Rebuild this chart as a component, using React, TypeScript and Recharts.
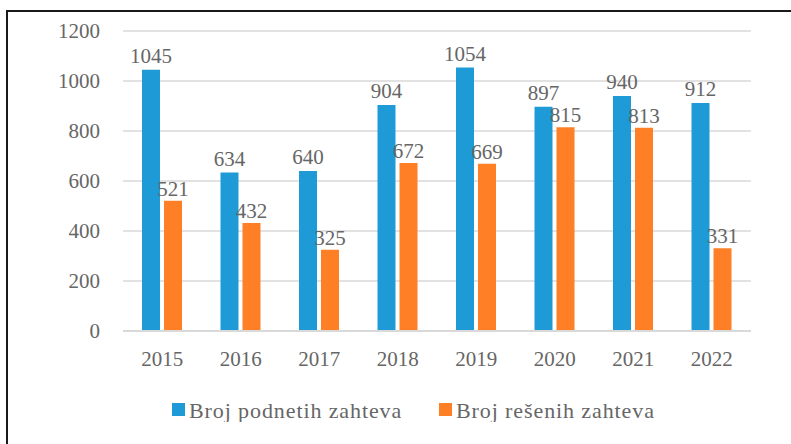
import { Bar, BarChart, CartesianGrid, LabelList, Legend, XAxis, YAxis } from "recharts";

const years = ["2015", "2016", "2017", "2018", "2019", "2020", "2021", "2022"];
const podneti = [1045, 634, 640, 904, 1054, 897, 940, 912];
const reseni = [521, 432, 325, 672, 669, 815, 813, 331];
const yTicks = [0, 200, 400, 600, 800, 1000, 1200];

const BLUE = "#1E9BD7";
const ORANGE = "#FF7F27";
const TEXT = "#666666";
const FONT = "Liberation Serif, Times New Roman, serif";

const data = years.map((year, i) => ({ year, podneti: podneti[i], reseni: reseni[i] }));

// drawn as svg so it uses the same text rendering as the axes
function LegendBox() {
  const item = (x: number, color: string, label: string) => (
    <g>
      <rect x={x} y={5} width={13} height={13} fill={color} />
      <text x={x + 17} y={20} fill={TEXT} fontSize={22} fontFamily={FONT} letterSpacing={0.9}>
        {label}
      </text>
    </g>
  );
  return (
    <svg width={791} height={24} style={{ display: "block" }}>
      {item(172, BLUE, "Broj podnetih zahteva")}
      {item(439, ORANGE, "Broj rešenih zahteva")}
    </svg>
  );
}

export default function App() {
  return (
    <div
      style={{
        position: "absolute",
        left: 0,
        top: 0,
        width: 791,
        height: 444,
        overflow: "hidden",
        background: "#fff",
      }}
    >
      {/* the frame only shows on the left and top edges */}
      <div
        style={{
          position: "absolute",
          left: 6,
          top: 10,
          width: 900,
          height: 500,
          border: "2px solid #1a1a1a",
        }}
      />
      <div style={{ position: "absolute", left: 0, top: 0 }}>
        <BarChart
          width={791}
          height={444}
          data={data}
          margin={{ top: 31, right: 40, bottom: 22, left: 0 }}
          barGap={4}
        >
          <CartesianGrid vertical={false} stroke="#D9D9D9" strokeWidth={1.5} />
          <XAxis
            dataKey="year"
            height={67}
            tickLine={false}
            tickSize={0}
            tickMargin={20}
            axisLine={{ stroke: "#D9D9D9", strokeWidth: 2 }}
            tick={{ fill: TEXT, fontSize: 21, fontFamily: FONT }}
          />
          <YAxis
            width={123}
            domain={[0, 1200]}
            ticks={yTicks}
            axisLine={false}
            tickLine={false}
            tickSize={0}
            tickMargin={23}
            tick={{ fill: TEXT, fontSize: 21, fontFamily: FONT }}
          />
          <Legend verticalAlign="bottom" height={24} wrapperStyle={{ left: 0, width: 791 }} content={<LegendBox />} />
          <Bar dataKey="podneti" name="Broj podnetih zahteva" fill={BLUE} barSize={18} isAnimationActive={false}>
            <LabelList dataKey="podneti" position="top" offset={7} fill={TEXT} fontSize={21} fontFamily={FONT} />
          </Bar>
          <Bar dataKey="reseni" name="Broj rešenih zahteva" fill={ORANGE} barSize={18} isAnimationActive={false}>
            <LabelList dataKey="reseni" position="top" offset={5} fill={TEXT} fontSize={21} fontFamily={FONT} />
          </Bar>
        </BarChart>
      </div>
    </div>
  );
}
